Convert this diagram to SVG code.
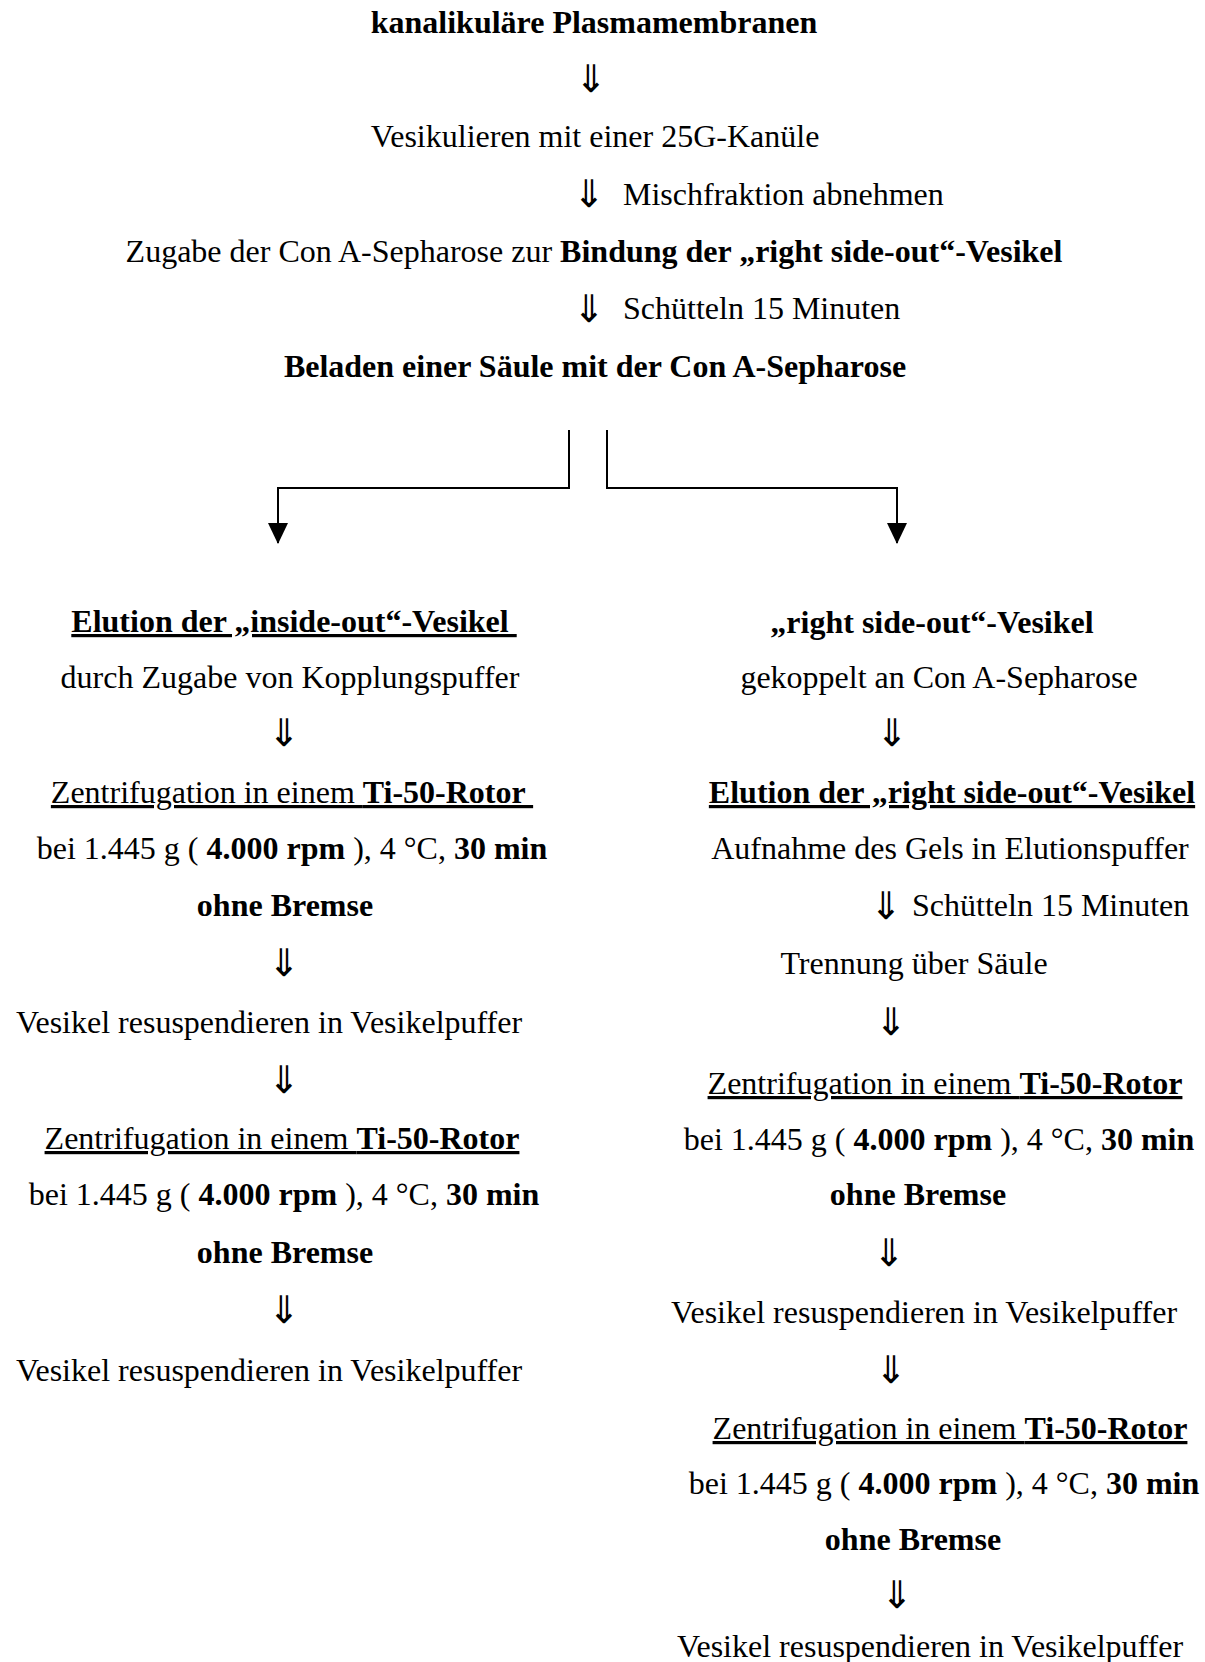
<svg xmlns="http://www.w3.org/2000/svg" width="1205" height="1662" viewBox="0 0 1205 1662">
<style>
text{font-family:"Liberation Serif","Times New Roman",serif;font-size:32px;fill:#000;white-space:pre}
.c{text-anchor:middle}
.b{font-weight:bold}
.u{text-decoration:underline;text-decoration-thickness:2.5px}
.ar{font-family:"DejaVu Sans",sans-serif;font-size:38px;text-anchor:middle}
.ln{stroke:#000;stroke-width:2;fill:none}
</style>
<defs>
<marker id="ah" markerWidth="21" markerHeight="20" refX="20" refY="10" orient="auto" markerUnits="userSpaceOnUse" viewBox="0 0 21 20">
<path d="M0,0 L21,10 L0,20 Z" fill="#000"/>
</marker>
</defs>
<rect width="1205" height="1662" fill="#fff"/>

<g id="top">
<g id="n1"><text class="c b" x="594" y="33">kanalikuläre Plasmamembranen</text></g>
<text class="ar" x="591" y="92">⇓</text>
<g id="n2"><text class="c" x="595" y="147">Vesikulieren mit einer 25G-Kanüle</text></g>
<text class="ar" x="589" y="207">⇓</text>
<text x="623" y="205">Mischfraktion abnehmen</text>
<g id="n3"><text class="c" x="594" y="262">Zugabe der Con A-Sepharose zur <tspan class="b">Bindung der „right side-out“-Vesikel</tspan></text></g>
<text class="ar" x="589" y="322">⇓</text>
<text x="623" y="319">Schütteln 15 Minuten</text>
<g id="n4"><text class="c b" x="595" y="377">Beladen einer Säule mit der Con A-Sepharose</text></g>
</g>

<g id="connectors">
<polyline class="ln" points="569,430 569,488 278,488 278,543" marker-end="url(#ah)"/>
<polyline class="ln" points="607,430 607,488 897,488 897,543" marker-end="url(#ah)"/>
</g>

<g id="left">
<g id="l1"><text class="c b u" x="294" y="632">Elution der „inside-out“-Vesikel </text></g>
<text class="c" x="290" y="688">durch Zugabe von Kopplungspuffer</text>
<text class="ar" x="284" y="746">⇓</text>
<g id="l2">
<text class="c u" x="292" y="803">Zentrifugation in einem <tspan class="b">Ti-50-Rotor </tspan></text>
<text class="c" x="292" y="859">bei 1.445 g ( <tspan class="b">4.000 rpm</tspan> ), 4 °C, <tspan class="b">30 min</tspan></text>
<text class="c b" x="285" y="916">ohne Bremse</text>
</g>
<text class="ar" x="284" y="976">⇓</text>
<g id="l3"><text class="c" x="269" y="1033">Vesikel resuspendieren in Vesikelpuffer</text></g>
<text class="ar" x="284" y="1093">⇓</text>
<g id="l4">
<text class="c u" x="282" y="1149">Zentrifugation in einem <tspan class="b">Ti-50-Rotor</tspan></text>
<text class="c" x="284" y="1205">bei 1.445 g ( <tspan class="b">4.000 rpm</tspan> ), 4 °C, <tspan class="b">30 min</tspan></text>
<text class="c b" x="285" y="1263">ohne Bremse</text>
</g>
<text class="ar" x="284" y="1323">⇓</text>
<g id="l5"><text class="c" x="269" y="1381">Vesikel resuspendieren in Vesikelpuffer</text></g>
</g>

<g id="right">
<g id="r1">
<text class="c b" x="932" y="633">„right side-out“-Vesikel</text>
<text class="c" x="939" y="688">gekoppelt an Con A-Sepharose</text>
</g>
<text class="ar" x="892" y="746">⇓</text>
<g id="r2">
<text class="c b u" x="952" y="803">Elution der „right side-out“-Vesikel</text>
<text class="c" x="950" y="859">Aufnahme des Gels in Elutionspuffer</text>
</g>
<text class="ar" x="886" y="919">⇓</text>
<text x="912" y="916">Schütteln 15 Minuten</text>
<g id="r3"><text class="c" x="914" y="974">Trennung über Säule</text></g>
<text class="ar" x="891" y="1035">⇓</text>
<g id="r4">
<text class="c u" x="945" y="1094">Zentrifugation in einem <tspan class="b">Ti-50-Rotor</tspan></text>
<text class="c" x="939" y="1150">bei 1.445 g ( <tspan class="b">4.000 rpm</tspan> ), 4 °C, <tspan class="b">30 min</tspan></text>
<text class="c b" x="918" y="1205">ohne Bremse</text>
</g>
<text class="ar" x="889" y="1266">⇓</text>
<g id="r5"><text class="c" x="924" y="1323">Vesikel resuspendieren in Vesikelpuffer</text></g>
<text class="ar" x="891" y="1383">⇓</text>
<g id="r6">
<text class="c u" x="950" y="1439">Zentrifugation in einem <tspan class="b">Ti-50-Rotor</tspan></text>
<text class="c" x="944" y="1494">bei 1.445 g ( <tspan class="b">4.000 rpm</tspan> ), 4 °C, <tspan class="b">30 min</tspan></text>
<text class="c b" x="913" y="1550">ohne Bremse</text>
</g>
<text class="ar" x="897" y="1608">⇓</text>
<g id="r7"><text class="c" x="930" y="1657">Vesikel resuspendieren in Vesikelpuffer</text></g>
</g>
</svg>
